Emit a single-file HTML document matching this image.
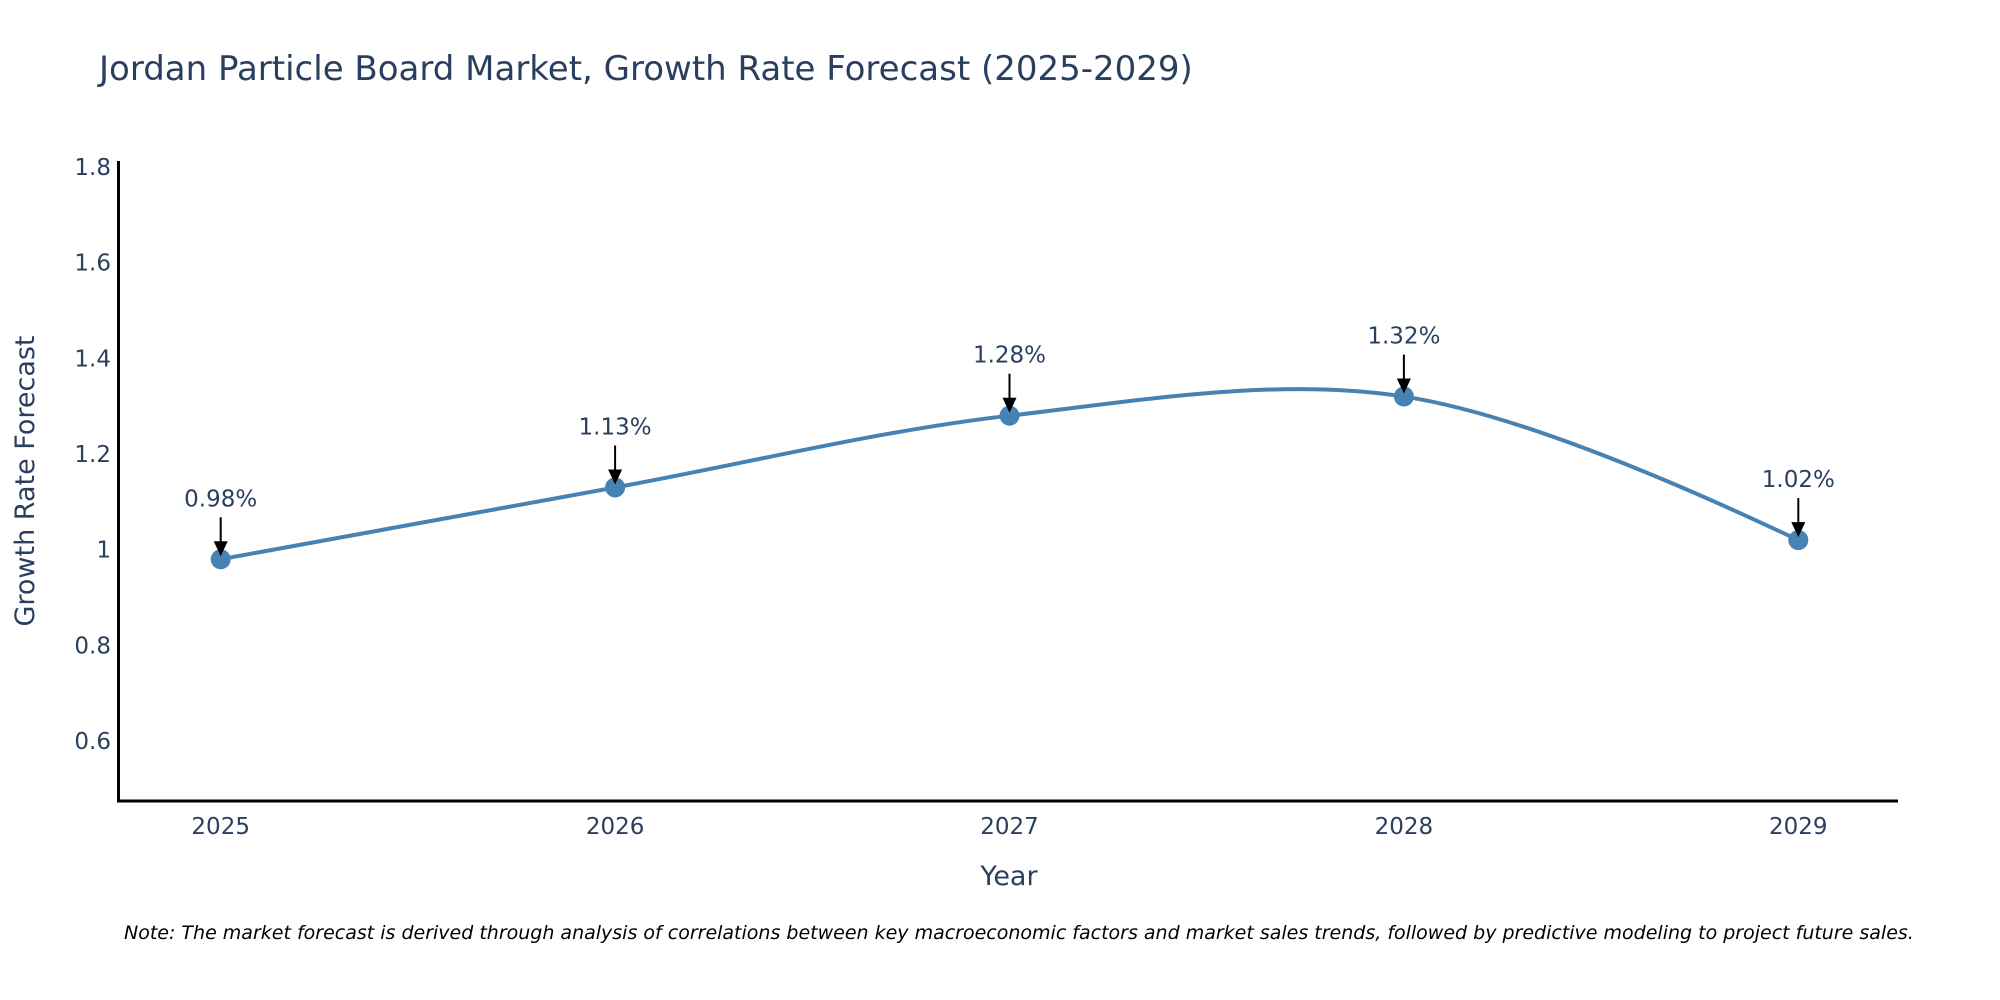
<!DOCTYPE html>
<html><head><meta charset="utf-8"><style>
html,body{margin:0;padding:0;background:#fff;}
svg{display:block;font-family:"DejaVu Sans","Liberation Sans",sans-serif;}
</style></head><body>
<svg id="chart" width="2000" height="1000">
<text x="99" y="80" font-size="34" fill="#2a3f5f">Jordan Particle Board Market, Growth Rate Forecast (2025-2029)</text>
<g id="yticks"></g>
<g id="xticks"></g>
<line x1="118.5" y1="161" x2="118.5" y2="802" stroke="#000" stroke-width="3"/>
<line x1="117" y1="801" x2="1898" y2="801" stroke="#000" stroke-width="3"/>
<text transform="translate(34,481) rotate(-90)" text-anchor="middle" font-size="27" fill="#2a3f5f">Growth Rate Forecast</text>
<text x="1009" y="885" text-anchor="middle" font-size="27" fill="#2a3f5f">Year</text>
<g id="series"></g>
<g id="annots"></g>
<text x="124" y="939" font-size="19" font-style="italic" fill="#000">Note: The market forecast is derived through analysis of correlations between key macroeconomic factors and market sales trends, followed by predictive modeling to project future sales.</text>
</svg>
<script>
const years = [2025, 2026, 2027, 2028, 2029];
const values = [0.98, 1.13, 1.28, 1.32, 1.02];
const labels = ["0.98%", "1.13%", "1.28%", "1.32%", "1.02%"];
const yTicks = [0.6, 0.8, 1, 1.2, 1.4, 1.6, 1.8];
const yTickLabels = ["0.6", "0.8", "1", "1.2", "1.4", "1.6", "1.8"];

const NS = "http://www.w3.org/2000/svg";
const X0 = 220.7, XSTEP = 394.4;
function xs(yr){ return X0 + (yr - years[0]) * XSTEP; }
const Y1 = 549.7, YPER = 478.6;
function ys(v){ return Y1 - (v - 1) * YPER; }
function mk(tag, attrs, parent){ const e = document.createElementNS(NS, tag); for (const k in attrs) e.setAttribute(k, attrs[k]); parent.appendChild(e); return e; }

const yg = document.getElementById('yticks');
yTicks.forEach((t, i) => {
  const e = mk('text', {x: 111, y: ys(t) + 8, 'text-anchor': 'end', 'font-size': 23, fill: '#2a3f5f'}, yg);
  
  
  e.textContent = yTickLabels[i];
});
const xg = document.getElementById('xticks');
years.forEach(y => {
  const e = mk('text', {x: xs(y), y: 834, 'text-anchor': 'middle', 'font-size': 23, fill: '#2a3f5f'}, xg);
  
  
  e.textContent = String(y);
});

const pts = years.map((y, i) => [xs(y), ys(values[i])]);
function tangent(p0, p1, p2, s){
  const d1x = p0[0]-p1[0], d1y = p0[1]-p1[1], d2x = p2[0]-p1[0], d2y = p2[1]-p1[1];
  const d1a = Math.pow(d1x*d1x + d1y*d1y, 0.25), d2a = Math.pow(d2x*d2x + d2y*d2y, 0.25);
  const nx = (d2a*d2a*d1x - d1a*d1a*d2x) * s, ny = (d2a*d2a*d1y - d1a*d1a*d2y) * s;
  const den1 = 3*d2a*(d1a+d2a), den2 = 3*d1a*(d1a+d2a);
  return [[p1[0] + nx/den1, p1[1] + ny/den1], [p1[0] - nx/den2, p1[1] - ny/den2]];
}
const tans = [];
for (let i = 1; i < pts.length - 1; i++) tans.push(tangent(pts[i-1], pts[i], pts[i+1], 1));
let d = 'M' + pts[0] + 'Q' + tans[0][0] + ' ' + pts[1];
for (let i = 2; i < pts.length - 1; i++) d += 'C' + tans[i-2][1] + ' ' + tans[i-1][0] + ' ' + pts[i];
d += 'Q' + tans[pts.length-3][1] + ' ' + pts[pts.length-1];
const sg = document.getElementById('series');
const line = mk('path', {d: d, fill: 'none', stroke: '#4682b4', 'stroke-width': 4}, sg);


pts.forEach(p => {
  const c = mk('circle', {cx: p[0], cy: p[1], r: 10, fill: '#4682b4'}, sg);
  
  
});

const ag = document.getElementById('annots');
pts.forEach((p, i) => {
  const l = mk('line', {x1: p[0], y1: p[1] - 42, x2: p[0], y2: p[1] - 16, stroke: '#000', 'stroke-width': 2}, ag);
  
  
  const h = mk('polygon', {points: `${p[0]-7},${p[1]-18} ${p[0]+7},${p[1]-18} ${p[0]},${p[1]-3}`, fill: '#000'}, ag);
  
  
  const t = mk('text', {x: p[0], y: p[1] - 53, 'text-anchor': 'middle', 'font-size': 23, fill: '#2a3f5f'}, ag);
  
  
  t.textContent = labels[i];
});
</script>
</body></html>
